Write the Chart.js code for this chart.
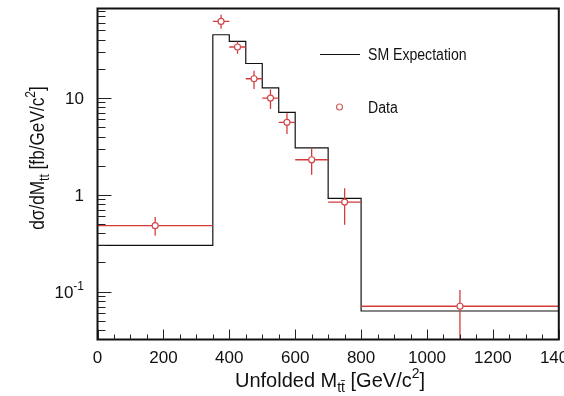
<!DOCTYPE html>
<html><head><meta charset="utf-8">
<script src="https://cdn.jsdelivr.net/npm/chart.js@4/dist/chart.umd.min.js"></script>
<style>html,body{margin:0;padding:0;background:#fff;}canvas{display:block}</style>
</head><body>
<canvas id="c" width="564" height="396"></canvas>
<script>
// ---- data ----
const binEdges = [0, 350, 400, 450, 500, 550, 600, 700, 800, 1400];
const smExpectation = [0.30, 45, 38.4, 22.7, 12.7, 7.1, 3.05, 0.92, 0.063];
const dataX = [175, 375, 425, 475, 525, 575, 650, 750, 1100];
const dataY = [0.48, 61.8, 33.6, 15.8, 9.97, 5.61, 2.30, 0.84, 0.0706];
const dataErrHigh = [0.59, 72.4, 38.4, 19.1, 12.2, 6.95, 3.03, 1.17, 0.104];
const dataErrLow = [0.377, 51.9, 28.7, 12.4, 7.68, 4.25, 1.61, 0.49, 0.03];
const xTickValues = [0, 200, 400, 600, 800, 1000, 1200, 1400];
const yTickLabels = [{v: 10, base: '10', sup: ''}, {v: 1, base: '1', sup: ''}, {v: 0.1, base: '10', sup: '-1'}];
const xRange = [0, 1400];
const yRange = [0.032, 84];

// ---- build library datasets ----
// histogram outline: point at each left edge carries that bin's value; last edge repeats the last value
const smPoints = binEdges.map((e, i) => ({x: e, y: smExpectation[Math.min(i, smExpectation.length - 1)]}));
const errXPoints = [];
const errYPoints = [];
dataX.forEach((cx, i) => {
  errXPoints.push({x: binEdges[i], y: dataY[i]}, {x: binEdges[i + 1], y: dataY[i]}, {x: binEdges[i + 1], y: null});
  errYPoints.push({x: cx, y: dataErrLow[i]}, {x: cx, y: dataErrHigh[i]}, {x: cx, y: null});
});
const dataPoints = dataX.map((x, i) => ({x, y: dataY[i]}));

const RED = '#d43c3c';
const FONT = '"Liberation Sans", Arial, Helvetica, sans-serif';

function runsWidth(ctx, runs) {
  let w = 0;
  runs.forEach(r => { ctx.font = r.size + 'px ' + FONT; w += ctx.measureText(r.t).width; });
  return w;
}
function drawRuns(ctx, runs, x, y, align, sx) {
  sx = sx || 1;
  const w = runsWidth(ctx, runs) * sx;
  const x0 = align === 'center' ? x - w / 2 : align === 'right' ? x - w : x;
  ctx.save();
  ctx.translate(x0, y);
  ctx.scale(sx, 1);
  ctx.textAlign = 'left';
  ctx.textBaseline = 'alphabetic';
  let cx = 0;
  runs.forEach(r => {
    ctx.font = r.size + 'px ' + FONT;
    ctx.fillText(r.t, cx, r.dy || 0);
    cx += ctx.measureText(r.t).width;
  });
  ctx.restore();
}

const decor = {
  id: 'decor',
  afterDraw(chart) {
    const ctx = chart.ctx;
    const xs = chart.scales.x, ys = chart.scales.y;
    const a = chart.chartArea;
    ctx.save();
    // frame
    ctx.strokeStyle = '#111';
    ctx.lineWidth = 2;
    ctx.beginPath();
    ctx.moveTo(a.left, a.top); ctx.lineTo(a.right, a.top); ctx.lineTo(a.right, a.bottom);
    ctx.lineTo(a.left, a.bottom); ctx.closePath();
    ctx.stroke();
    // x ticks (inward)
    ctx.lineWidth = 1;
    ctx.strokeStyle = '#222';
    for (let v = xRange[0]; v <= xRange[1]; v += 50) {
      const px = Math.round(xs.getPixelForValue(v)) + 0.5;
      const len = v % 200 === 0 ? 10 : 5;
      ctx.beginPath(); ctx.moveTo(px, a.bottom); ctx.lineTo(px, a.bottom - len); ctx.stroke();
    }
    // y ticks (inward)
    for (let d = -2; d <= 2; d++) {
      for (let m = 1; m <= 9; m++) {
        const v = m * Math.pow(10, d);
        if (v < yRange[0] || v > yRange[1]) continue;
        const py = Math.round(ys.getPixelForValue(v)) + 0.5;
        const len = m === 1 ? 14 : 8;
        ctx.beginPath(); ctx.moveTo(a.left, py); ctx.lineTo(a.left + len, py); ctx.stroke();
      }
    }
    // tick labels
    ctx.fillStyle = '#111';
    xTickValues.forEach(v => {
      drawRuns(ctx, [{t: String(v), size: 17}], xs.getPixelForValue(v), 363, 'center');
    });
    yTickLabels.forEach(l => {
      const py = ys.getPixelForValue(l.v) + 6;
      const runs = [{t: l.base, size: 17}];
      if (l.sup) runs.push({t: l.sup, size: 12, dy: -8});
      drawRuns(ctx, runs, 84, py, 'right');
    });
    // axis titles
    drawRuns(ctx, [
      {t: 'Unfolded M', size: 20},
      {t: 'tt\u0304', size: 14, dy: 5},
      {t: ' [GeV/c', size: 20},
      {t: '2', size: 14, dy: -9},
      {t: ']', size: 20}
    ], 330, 387, 'center');
    ctx.save();
    ctx.translate(44, 158);
    ctx.rotate(-Math.PI / 2);
    drawRuns(ctx, [
      {t: 'd\u03c3/dM', size: 20},
      {t: 'tt', size: 14, dy: 5},
      {t: ' [fb/GeV/c', size: 20},
      {t: '2', size: 14, dy: -9},
      {t: ']', size: 20}
    ], 0, 0, 'center', 0.86);
    ctx.restore();
    // legend
    ctx.strokeStyle = '#111';
    ctx.lineWidth = 1;
    ctx.beginPath(); ctx.moveTo(320, 54.5); ctx.lineTo(360, 54.5); ctx.stroke();
    ctx.fillStyle = '#111';
    drawRuns(ctx, [{t: 'SM Expectation', size: 16}], 368, 60, 'left', 0.88);
    ctx.strokeStyle = '#d06060';
    ctx.fillStyle = '#fff';
    ctx.lineWidth = 1.2;
    ctx.beginPath(); ctx.arc(339.5, 107, 3, 0, Math.PI * 2); ctx.fill(); ctx.stroke();
    ctx.fillStyle = '#111';
    drawRuns(ctx, [{t: 'Data', size: 16}], 368, 113, 'left', 0.88);
    ctx.restore();
  }
};

new Chart(document.getElementById('c'), {
  type: 'scatter',
  data: {
    datasets: [
      {label: 'Data', type: 'scatter', data: dataPoints, order: 0,
        pointStyle: 'circle', pointRadius: 3, borderColor: '#d04a4a', backgroundColor: '#ffffff', borderWidth: 1.2},
      {label: 'errX', type: 'line', data: errXPoints, order: 1, borderColor: RED, borderWidth: 1.3,
        pointRadius: 0, spanGaps: false, fill: false},
      {label: 'errY', type: 'line', data: errYPoints, order: 1, borderColor: RED, borderWidth: 1.3,
        pointRadius: 0, spanGaps: false, fill: false},
      {label: 'SM Expectation', type: 'line', data: smPoints, order: 2, stepped: 'before',
        borderColor: '#111', borderWidth: 1.2, pointRadius: 0, fill: false}
    ]
  },
  options: {
    responsive: false,
    devicePixelRatio: 1,
    animation: false,
    layout: {padding: {left: 97.5, right: 3.5, top: 8.5, bottom: 56.5}},
    plugins: {legend: {display: false}, tooltip: {enabled: false}},
    scales: {
      x: {type: 'linear', min: xRange[0], max: xRange[1], display: false},
      y: {type: 'logarithmic', min: yRange[0], max: yRange[1], display: false}
    }
  },
  plugins: [decor]
});
</script>
</body></html>
